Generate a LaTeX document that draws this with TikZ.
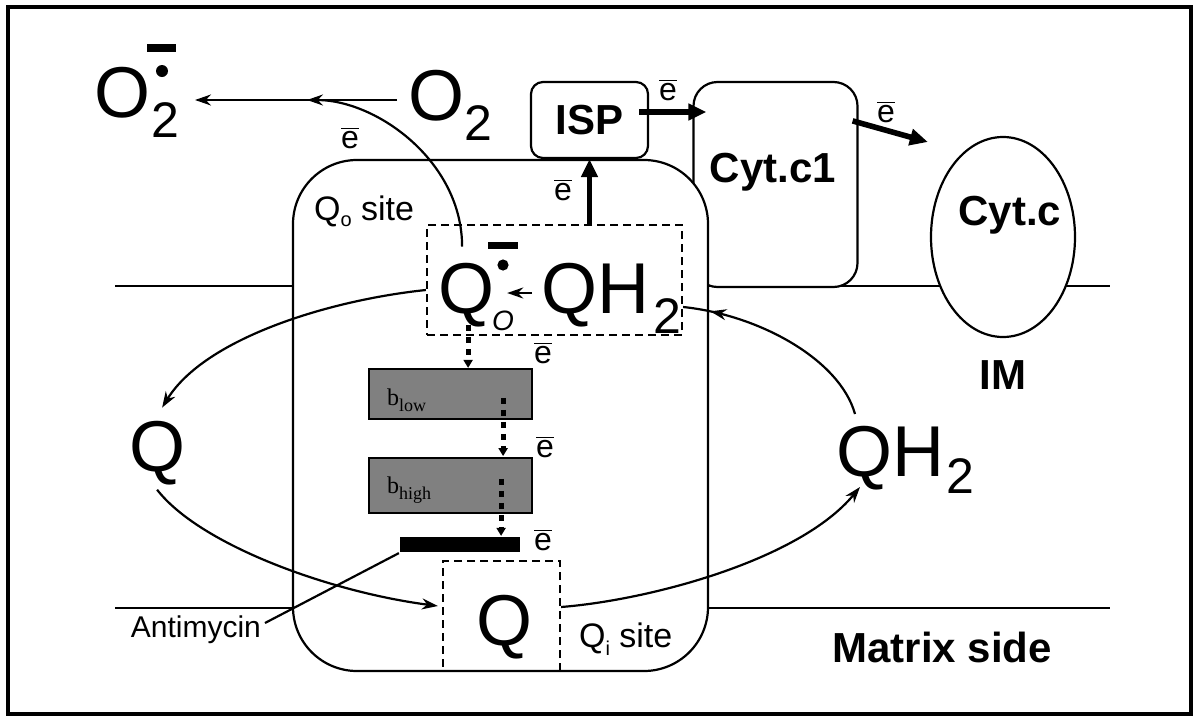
\documentclass[tikz,border=0pt]{standalone}
\usepackage{fontspec}
\setmainfont{Liberation Sans}
\newfontfamily\seriffam{Liberation Serif}
\usetikzlibrary{shapes.geometric, arrows.meta, positioning, calc, decorations.markings}
\newcommand{\ebar}{$\overline{\hbox{e}}$}
\begin{document}
\begin{tikzpicture}[x=0.5pt, y=-0.5pt, line width=1.1pt,
    big/.style={font=\fontsize{36}{40}\selectfont, inner sep=0pt, anchor=base west},
    sub/.style={font=\fontsize{25}{28}\selectfont, inner sep=0pt, anchor=base west},
    elec/.style={font=\fontsize{16}{18}\selectfont, inner sep=0pt},
    txt/.style={font=\fontsize{17}{20}\selectfont, inner sep=0pt, anchor=base west},
    bigbold/.style={font=\fontsize{21}{24}\selectfont\bfseries, inner sep=0pt},
    hemelbl/.style={font=\seriffam\fontsize{12}{14}\selectfont, inner sep=0pt, anchor=base west},
    rbox/.style={draw, fill=white, rounded corners=#1, inner sep=0pt},
    heme/.style={draw, fill=black!50, inner sep=0pt, minimum width=81.5pt},
    site/.style={draw, dash pattern=on 4pt off 2.5pt, inner sep=0pt},
    arr/.style={-{Stealth[length=8pt, width=5.5pt]}},
    fat/.style={-{Triangle[length=9pt, width=8pt]}, line width=2.8pt},
    dots/.style={-{Triangle[length=4pt, width=4.5pt]}, line width=2.6pt, dash pattern=on 3pt off 3pt},
]
\useasboundingbox (0,0) rectangle (1195,718);
\draw[line width=1.6pt] (8,7) rectangle (1191,714);
\draw (115,286) -- (1110,286);
\draw (115,608) -- (1110,608);

\node[rbox=12pt, minimum width=82pt, minimum height=102.5pt] (CYT1) at (775.5,184.5) {};
\node[draw, fill=white, ellipse, inner sep=0pt, minimum width=72pt, minimum height=100pt] (CYTC) at (1003,237) {};
\node[rbox=32pt, minimum width=207.5pt, minimum height=255.5pt] (COMPLEX) at (500.5,415.5) {};
\node[rbox=6pt, minimum width=58.5pt, minimum height=38pt, bigbold] (ISP) at (589.5,120) {ISP};
\node[bigbold] (CYT1L) at (773,172) {Cyt.c1};
\node[bigbold] (CYTCL) at (1010,215) {Cyt.c};
\node[bigbold] (IM) at (1003,375) {IM};

\node[site, minimum width=127.5pt, minimum height=55pt] (QO) at (554.5,280) {};
\node[site, minimum width=58.5pt, minimum height=55pt] (QI) at (501.5,616) {};
\node[heme, minimum height=25pt] (BLOW) at (450.5,394) {};
\node[heme, minimum height=27.5pt] (BHIGH) at (450.5,485.5) {};
\node[fill=black, inner sep=0pt, minimum width=60pt, minimum height=7.5pt] (BAR) at (460,544.5) {};
\node[hemelbl] (BLOWL) at (386,405) {b\raisebox{-3pt}{\fontsize{9}{10}\selectfont low}};
\node[hemelbl] (BHIGHL) at (386,493) {b\raisebox{-3pt}{\fontsize{9}{10}\selectfont high}};

\node[big] (O2) at (407,120) {O};
\node[sub] (O2S) at (463,140) {2};
\node[big] (SUP) at (93,117) {O};
\node[sub] (SUPS) at (150,137) {2};
\fill (162,71) circle (3pt);
\fill (147,44) rectangle (176,52);
\node[big] (QR) at (437,313) {Q};
\fill (503,265) circle (2.8pt);
\fill (488,242) rectangle (518,249);
\node[font=\fontsize{14}{16}\selectfont\itshape, inner sep=0pt] (QRS) at (503,321) {O};
\node[big] (QH) at (540,313) {QH};
\node[sub] (QHS) at (652,333) {2};
\node[big] (QHR) at (835,476) {QH};
\node[sub] (QHRS) at (945,493) {2};
\node[big] (QL) at (128,471) {Q};
\node[big] (QIQ) at (475,645) {Q};

\node[txt] (QOS) at (313,220) {Q\raisebox{-3pt}{\fontsize{10}{12}\selectfont o} site};
\node[txt] (QIS) at (578,647) {Q\raisebox{-4pt}{\fontsize{10}{12}\selectfont i} site};
\node[txt, anchor=base east, font=\fontsize{15}{18}\selectfont] (ANTI) at (262,637) {Antimycin};
\node[bigbold, anchor=base east] (MAT) at (1053,662) {Matrix side};

\node[elec] (E1) at (350,138) {\ebar};
\node[elec] (E2) at (563,190) {\ebar};
\node[elec] (E3) at (668,90) {\ebar};
\node[elec] (E4) at (886,112) {\ebar};
\node[elec] (E5) at (543,353) {\ebar};
\node[elec] (E6) at (545,447) {\ebar};
\node[elec] (E7) at (543,540) {\ebar};

\coordinate (JOIN) at (307,100);
\draw[arr] ($(O2.base west)+(-10,-20)$) -- ($(SUPS.base east)+(15,-37)$);
\draw[arr] ($(QR.north)+(-4,-15)$) .. controls +(0,-85) and +(70,0) .. (JOIN);
\draw[arr] ($(QO.west)+(0,10)$) .. controls (330,300) and (205,338) .. ($(QL.north)+(5,-12)$);
\draw[arr] ($(QL.south)+(0,4)$) .. controls (200,545) and (330,592) .. ($(QI.west)+(-4,-10)$);
\draw[arr] ($(QI.east)+(0,-9)$) .. controls (650,600) and (800,560) .. ($(QHR.base west)+(25,11)$);
\draw[postaction={decorate}, decoration={markings, mark=at position 0.87 with {\arrow{Stealth[length=8pt, width=5.5pt]}}}]
    ($(QHR.base west)+(20,-62)$) .. controls (840,360) and (760,315) .. ($(QO.east)+(0,27)$);
\draw[arr] ($(QH.base west)+(-8,-20)$) -- ($(QR.base east)+(12,-20)$);
\draw[fat] (ISP.south |- QO.north) -- (ISP.south);
\draw[fat] ($(ISP.east)+(-10,-8)$) -- ($(ISP.east -| CYT1.west)+(14,-8)$);
\draw[fat] ($(CYT1.north east)+(-6,40)$) -- ($(CYTC.west)+(-2,-95)$);
\draw[dots] ($(QR.base)+(2,12)$) -- ($(QR.base |- BLOW.north)+(2,0)$);
\draw[dots] ($(BLOW.north east)+(-30,30)$) -- ($(BLOW.south east)+(-30,36)$);
\draw[dots] ($(BHIGH.north east)+(-32,22)$) -- ($(BHIGH.north east |- BAR.north)+(-32,0)$);
\draw ($(ANTI.base east)+(3,-14)$) -- (BAR.south west);
\end{tikzpicture}
\end{document}
